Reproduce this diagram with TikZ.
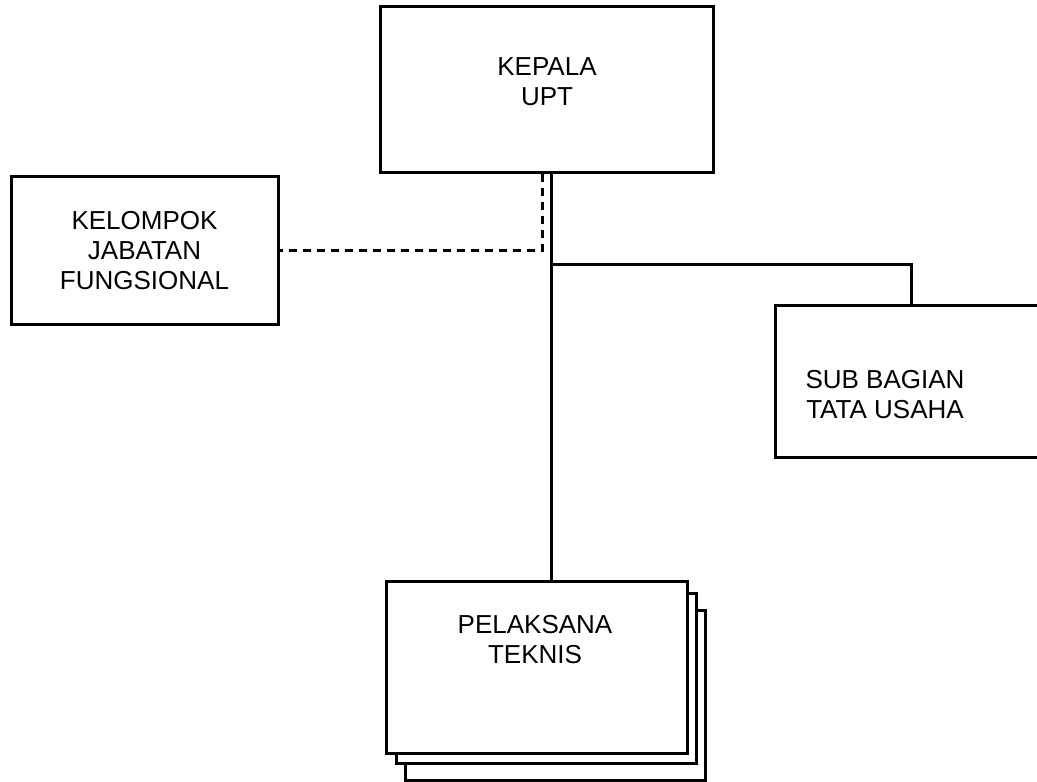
\documentclass[tikz,border=0pt]{standalone}
\usepackage{fontspec}
\setmainfont{Liberation Sans}
\usetikzlibrary{positioning,calc}

\begin{document}
\begin{tikzpicture}[
        x=0.5pt, y=0.5pt, line width=1.5pt,
        box/.style={draw, rectangle, inner sep=0pt},
        boxw/.style={box, fill=white},
        txt/.style={align=center, font=\fontsize{13}{15}\selectfont, inner sep=0pt},
        dashline/.style={dash pattern=on 4pt off 3pt}
    ]
        \useasboundingbox (0,0) rectangle (1037,781);

        \node[box, minimum width=166.5pt, minimum height=83pt] (kepala) at (546.5,691) {};
        \node[txt] (kepalatxt) at (547,699) {KEPALA\\UPT};

        \node[box, minimum width=133.5pt, minimum height=74pt] (kelompok) at (144.5,530) {};
        \node[txt] (kelompoktxt) at (kelompok) {KELOMPOK\\JABATAN\\FUNGSIONAL};

        \node[box, minimum width=136pt, minimum height=76pt] (sub) at (911,399) {};
        \node[txt] (subtxt) at (885,386) {SUB BAGIAN\\TATA USAHA};

        % stacked boxes, back to front
        \node[boxw, minimum width=150pt, minimum height=85pt] (pelaksanaC) at (555.5,85.5) {};
        \node[boxw, minimum width=150pt, minimum height=85pt] (pelaksanaB) at (546.5,102.5) {};
        \node[boxw, minimum width=150.5pt, minimum height=85.5pt] (pelaksana) at (536.5,113.5) {};
        \node[txt] (pelaksanatxt) at (535,141) {PELAKSANA\\TEKNIS};

        \coordinate (junc) at (551,516);
        \coordinate (dash) at (542,529);

        \draw (kepala.south -| junc) -- (pelaksana.north -| junc);
        \draw (junc) -| (sub.north);
        \draw[dashline] (kepala.south -| dash) |- (kelompok.east);
    \end{tikzpicture}
\end{document}
